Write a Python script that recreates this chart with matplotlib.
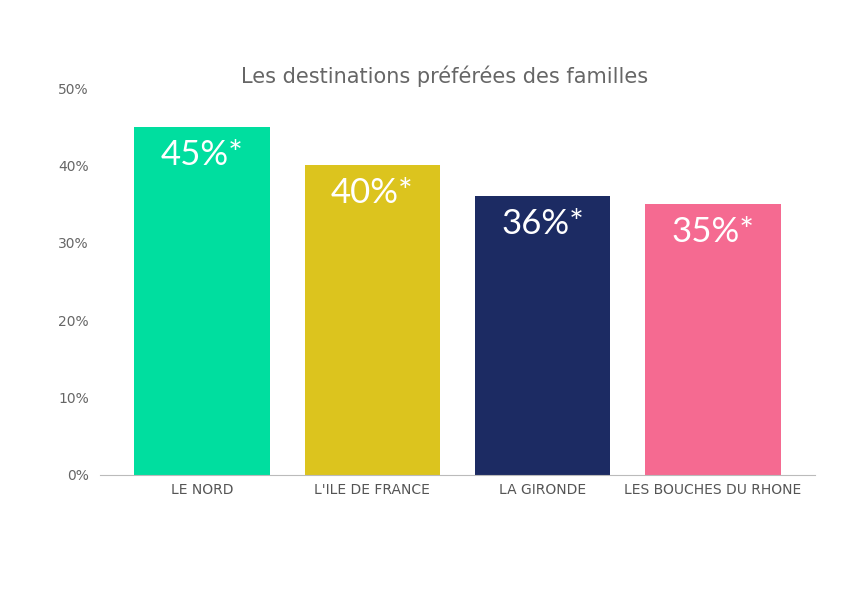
import matplotlib
matplotlib.use("Agg")
import matplotlib.pyplot as plt

categories = ["LE NORD", "L'ILE DE FRANCE", "LA GIRONDE", "LES BOUCHES DU RHONE"]
values = [45, 40, 36, 35]
labels = ["45%*", "40%*", "36%*", "35%*"]
colors = ["#00de9f", "#dcc41e", "#1c2b63", "#f56a91"]
yticks = [0, 10, 20, 30, 40, 50]

fig = plt.figure(figsize=(8.5, 6), dpi=100)
ax = fig.add_axes([100/850, 1-475/600, 715/850, 387/600])
x = list(range(len(categories)))
ax.bar(x, values, width=0.795, color=colors)
for xi, v, l in zip(x, values, labels):
    ax.text(xi, v - 3.6, l, ha="center", va="center", color="white", fontsize=25, family="Lato")
ax.set_xlim(-0.6, 3.6)
ax.set_ylim(0, 50)
ax.set_yticks(yticks)
ax.set_yticklabels([f"{t}%" for t in yticks], color="#666666", fontsize=10)
ax.set_xticks(x)
ax.set_xticklabels(categories, color="#555555", fontsize=10)
ax.tick_params(length=0, pad=6)
ax.tick_params(axis="y", pad=8)
for s in ["top", "right", "left"]:
    ax.spines[s].set_visible(False)
ax.spines["bottom"].set_color("#bbbbbb")
fig.text(445/850, 1-76/600, "Les destinations préférées des familles", ha="center", va="center",
         color="#666666", fontsize=15)
fig.savefig("out.png", dpi=100)
